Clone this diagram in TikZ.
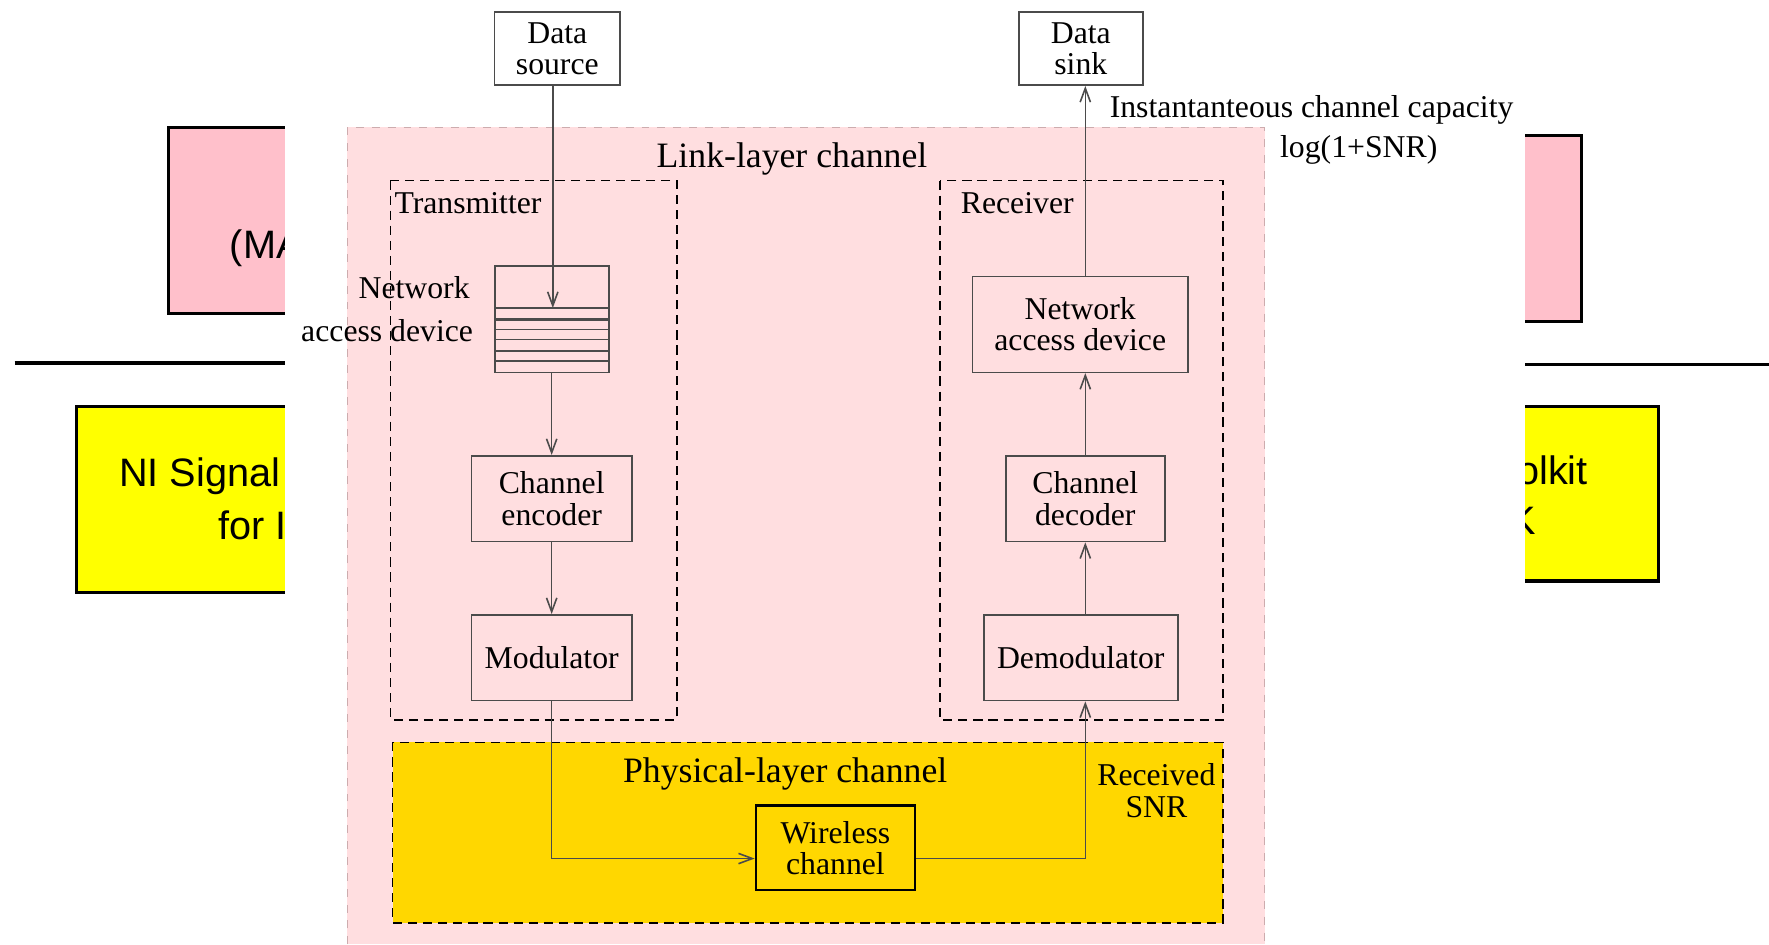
\documentclass[tikz,border=0pt]{standalone}
\usepackage{fontspec}
\setmainfont{Liberation Serif}
\newfontfamily\slidefont{Liberation Sans}
\usetikzlibrary{arrows.meta}
\definecolor{slidepink}{RGB}{255,192,203}
\definecolor{slideyellow}{RGB}{255,255,0}
\definecolor{linkpink}{RGB}{255,222,224}
\definecolor{linkborder}{RGB}{205,172,174}
\definecolor{phygold}{RGB}{255,215,0}
\definecolor{boxline}{RGB}{75,75,75}

\begin{document}
\begin{tikzpicture}[x=0.01cm,y=-0.01cm,
    blk/.style={draw=boxline,thin,align=center,inner sep=0pt,font=\fontsize{8}{7.9}\selectfont},
    lbl/.style={inner sep=0pt,align=center,font=\fontsize{8}{8}\selectfont},
    big/.style={inner sep=0pt,font=\fontsize{9}{9}\selectfont},
    grp/.style={draw,thin,dash pattern=on 2.3pt off 1.5pt},
    flow/.style={draw=boxline,thin,-{Straight Barb[length=3.5pt,width=2.6pt]}},
    slidebox/.style={draw,line width=0.8pt},
    slidetxt/.style={inner sep=0pt,font=\slidefont\fontsize{10}{12}\selectfont}]
        \useasboundingbox (0,0) rectangle (1568,837);
        % slide behind the figure
        \draw[slidebox,fill=slidepink] (149,113) rectangle (300,278);
        \draw[slidebox,fill=slidepink] (1300,120) rectangle (1402,285);
        \draw[line width=0.9pt] (13,322) -- (300,322);
        \draw[line width=0.9pt] (1300,323) -- (1568,323);
        \draw[slidebox,fill=slideyellow] (68,360) rectangle (300,525);
        \draw[slidebox,fill=slideyellow] (1300,360) rectangle (1470,515);
        \node[slidetxt,anchor=west] (mactxt) at (203,220) {(MA};
        \node[slidetxt,anchor=west] (nitxt) at (105,422) {NI Signal};
        \node[slidetxt,anchor=west] (fortxt) at (193,466) {for I};
        \node[slidetxt,anchor=east] (kittxt) at (1408,417) {olkit};
        \node[slidetxt,anchor=west] (ktxt) at (1337,462) {K};
        % figure pasted on top
        \fill[white] (253,0) rectangle (1352,837);
        \fill[linkpink] (308,113) rectangle (1121,837);
        \draw[linkborder,dash pattern=on 2pt off 2pt] (308,837) -- (308,113) -- (1121,113) -- (1121,837);
        \node[big] (linklbl) at (702,141) {Link-layer channel};
        % transmitter and receiver
        \draw[grp] (346,160) rectangle (600,638);
        \node[lbl,anchor=west] (txlbl) at (349,180) {Transmitter};
        \draw[grp] (833,160) rectangle (1084,638);
        \node[lbl,anchor=west] (rxlbl) at (851,180) {Receiver};
        % physical layer
        \draw[grp,fill=phygold] (348,658) rectangle (1084,818);
        \node[big] (phylbl) at (696,686) {Physical-layer channel};
        \node[lbl] (snrlbl) at (1025,701) {Received\\SNR};
        % data ends
        \node[blk,minimum width=1.11cm,minimum height=0.65cm] (dsrc) at (494,43) {Data\\source};
        \node[blk,minimum width=1.10cm,minimum height=0.65cm] (dsink) at (958,43) {Data\\sink};
        \node[lbl,anchor=west] (caplbl) at (983,97) {Instantanteous channel capacity};
        \node[lbl,anchor=west] (loglbl) at (1134,133) {log(1+SNR)};
        % queue of the network access device
        \node[draw=boxline,thin,inner sep=0pt,minimum width=1.01cm,minimum height=0.94cm] (netq) at (489.5,283) {};
        \foreach \y/\w in {273/0.4,283/0.7,292/0.4,301/0.4,311/0.4,320/0.7}
            \draw[boxline,line width=\w pt] (netq.west |- 0,\y) -- (netq.east |- 0,\y);
        \coordinate (qin) at (490,273);
        \node[lbl,anchor=east] (nadtx1) at (417,255) {Network};
        \node[lbl,anchor=east] (nadtx2) at (420,293) {access device};
        % blocks
        \node[blk,minimum width=1.42cm,minimum height=0.76cm] (enc) at (489,442) {Channel\\encoder};
        \node[blk,minimum width=1.42cm,minimum height=0.76cm] (mod) at (489,583) {Modulator};
        \node[blk,draw=black,semithick,minimum width=1.41cm,minimum height=0.75cm] (wch) at (740.5,751.5) {Wireless\\channel};
        \node[blk,minimum width=1.72cm,minimum height=0.76cm] (demod) at (958,583) {Demodulator};
        \node[blk,minimum width=1.41cm,minimum height=0.76cm] (dec) at (962,442) {Channel\\decoder};
        \node[blk,minimum width=1.91cm,minimum height=0.85cm] (nadr) at (957.5,287.5) {Network\\access device};
        % signal flow
        \draw[flow] (qin |- dsrc.south) -- (qin);
        \draw[flow] (enc.north |- netq.south) -- (enc.north);
        \draw[flow] (enc) -- (mod);
        \draw[flow] (mod.south) |- ([yshift=-0.95mm]wch.west);
        \draw[flow] ([yshift=-0.95mm]wch.east) -| (dec.south |- demod.south);
        \draw[flow] (dec.south |- demod.north) -- (dec.south);
        \draw[flow] (dec.north) -- (dec.north |- nadr.south);
        \draw[flow] (dec.north |- nadr.north) -- (dec.north |- dsink.south);
    \end{tikzpicture}
\end{document}
